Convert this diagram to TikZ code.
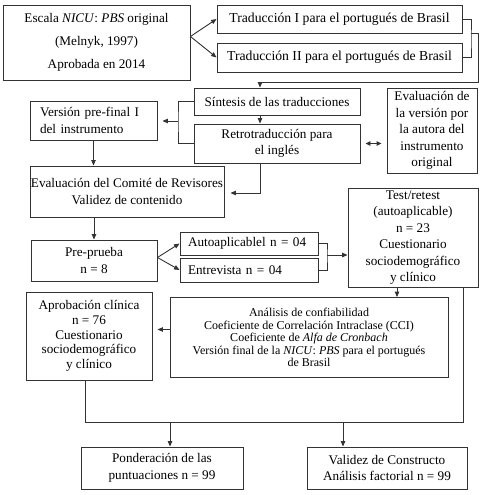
\documentclass[tikz,border=0pt]{standalone}
\usepackage{fontspec}
\setmainfont{Liberation Serif}
\usetikzlibrary{arrows.meta,calc}
\tikzset{
 box/.style={draw=black!80, line width=0.9pt, inner sep=0pt, align=center, font=\fontsize{13.2}{16.5}\selectfont},
 ln/.style={draw=black!80, line width=0.9pt},
 arr/.style={ln, -{Triangle[length=5.5pt,width=4.5pt]}},
 dbl/.style={ln, {Triangle[length=5pt,width=4.5pt]}-{Triangle[length=5pt,width=4.5pt]}},
}
\begin{document}
\begin{tikzpicture}[x=1pt,y=-1pt]
\useasboundingbox (0,0) rectangle (484,495);
% boxes
\node[box, minimum width=187pt, minimum height=75pt, font=\fontsize{13.2}{23}\selectfont] (esc) at (96.5,42.5) {Escala \textit{NICU}: \textit{PBS} original\\(Melnyk, 1997)\\Aprobada en 2014};
\node[box, minimum width=245pt, minimum height=28pt, font=\fontsize{13.7}{16.5}\selectfont] (t1) at (339.5,19) {Traducción I para el portugués de Brasil};
\node[box, minimum width=245pt, minimum height=29pt, font=\fontsize{13.7}{16.5}\selectfont] (t2) at (339.5,57.5) {Traducción II para el portugués de Brasil};
\node[box, minimum width=166pt, minimum height=27pt] (sin) at (277,101.5) {Síntesis de las traducciones};
\node[box, minimum width=166pt, minimum height=39pt] (ret) at (277,143.5) {Retrotraducción para\\el inglés};
\node[box, text width=107pt, inner xsep=10pt, align=left, minimum height=39pt] (pre1) at (93.5,120.5) {Versión pre-final I\\del instrumento};
\node[box, minimum width=90pt, minimum height=85pt] (eva) at (432,130.5) {Evaluación de\\la versión por\\la autora del\\instrumento\\original};
\node[box, minimum width=194pt, minimum height=51pt] (com) at (127,191.5) {Evaluación del Comité de Revisores\\Validez de contenido};
\node[box, minimum width=126pt, minimum height=41pt] (pp) at (94,260.5) {Pre-prueba\\n = 8};
\node[box, text width=122pt, inner xsep=8pt, align=left, minimum height=23pt] (auto) at (249,243.5) {Autoaplicablel n = 04};
\node[box, text width=122pt, inner xsep=8pt, align=left, minimum height=24pt] (ent) at (249,270) {Entrevista n = 04};
\node[box, minimum width=130pt, minimum height=99pt] (test) at (413,237.5) {Test/retest\\(autoaplicable)\\n = 23\\Cuestionario\\sociodemográfico\\y clínico};
\node[box, minimum width=278pt, minimum height=80pt, font=\fontsize{12}{12.4}\selectfont] (ana) at (309,337.5) {Análisis de confiabilidad\\Coeficiente de Correlación Intraclase (CCI)\\Coeficiente de \textit{Alfa de Cronbach}\\Versión final de la \textit{NICU}: \textit{PBS} para el portugués\\de Brasil};
\node[box, minimum width=126pt, minimum height=88pt, font=\fontsize{13.2}{14.7}\selectfont] (apr) at (89,336) {Aprobación clínica\\n = 76\\Cuestionario\\sociodemográfico\\y clínico};
\node[box, minimum width=162pt, minimum height=42pt] (pon) at (162,468) {Ponderación de las\\puntuaciones n = 99};
\node[box, minimum width=160pt, minimum height=42pt] (val) at (387,468) {Validez de Constructo\\Análisis factorial n = 99};
% junction coordinates
\coordinate (brx) at (471,40);
\coordinate (j1) at (471,33);
\coordinate (j2) at (478,33);
\coordinate (j3) at (260,82);
\coordinate (sx) at (178,121);
\coordinate (bx) at (327,255);
\coordinate (tx) at (397,0);
\coordinate (hl) at (85,422);
\coordinate (hr) at (463,422);
\coordinate (a1) at (170,422);
\coordinate (a2) at (343,422);
% connectors
\draw[arr] ([yshift=6pt]esc.east) -- (t1.west);
\draw[arr] ([yshift=6pt]esc.east) -- (t2.west);
\draw[ln] (t1.east) -| (brx) |- (t2.east);
\draw[arr] (j1) -- (j2) |- (j3) -- (j3 |- sin.north);
\draw[arr] (sin.south -| j3) -- (ret.north -| j3);
\draw[ln] (sin.west) -| (sx) |- (ret.west);
\draw[arr, shorten >=5pt] (sx) -- (sx -| pre1.east);
\draw[dbl, shorten <=5pt, shorten >=5pt] (ret.east) -- (ret.east -| eva.west);
\draw[arr] (pre1.south) -- (pre1.south |- com.north);
\draw[arr, shorten >=6pt] (ret.south -| j3) |- ([yshift=-1.5pt]com.east);
\draw[arr] (com.south -| pp.north) -- (pp.north);
\draw[arr] ([yshift=3pt]pp.east) -- (auto.west);
\draw[arr] ([yshift=3pt]pp.east) -- (ent.west);
\draw[ln] (auto.east) -| (bx) |- (ent.east);
\draw[arr] (bx) -- (bx -| test.west);
\draw[arr] (test.south -| tx) -- (ana.north -| tx);
\draw[arr, shorten >=5pt] ([yshift=8pt]ana.west) -- ([yshift=8pt]ana.west -| apr.east);
\draw[ln] (apr.south -| hl) -- (hl) -- (hr) -- (hr |- test.south);
\draw[arr] (a1) -- (a1 |- pon.north);
\draw[arr] (a2) -- (a2 |- val.north);
\end{tikzpicture}
\end{document}
